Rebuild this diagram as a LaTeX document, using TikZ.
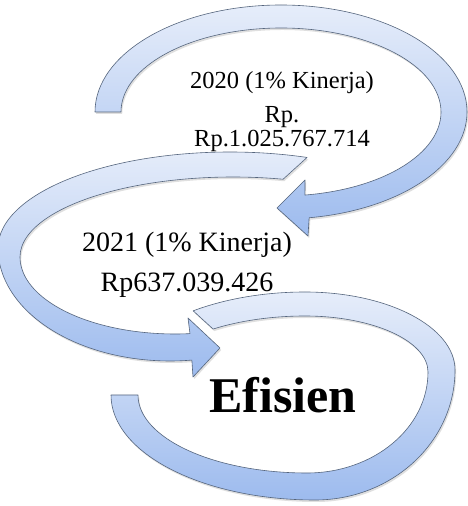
\documentclass[tikz,border=0pt]{standalone}
\usepackage{fontspec}
\setmainfont{Liberation Serif}
\usetikzlibrary{shadows}
\definecolor{bandlight}{HTML}{E6EDFA}
\definecolor{banddark}{HTML}{9DBBEE}
\definecolor{bandline}{HTML}{55657D}
\begin{document}
\begin{tikzpicture}[x=1pt,y=1pt,
  band/.style={draw=bandline, line width=0.6pt, line join=round,
    top color=bandlight, bottom color=banddark,
    drop shadow={opacity=0.25, shadow xshift=1.2pt, shadow yshift=-2pt}},
  lbl/.style={anchor=base, inner sep=0pt},
  small/.style={lbl, font=\fontsize{24.5}{24.5}\selectfont},
  mid/.style={lbl, font=\fontsize{28}{28}\selectfont},
  big/.style={lbl, font=\fontsize{50}{50}\selectfont\bfseries}]
\useasboundingbox (0,0) rectangle (468,506);
\fill[white] (0,0) rectangle (468,506);
% arrow 3 (bottom, no head)
\draw[band] ({305+194*cos(125.2)},{111+103*sin(125.2)})
  arc[start angle=125.2, end angle=90, x radius=194, y radius=103]
  arc[start angle=90, end angle=0, x radius=150, y radius=78]
  arc[start angle=0, end angle=-90, x radius=140, y radius=130]
  arc[start angle=-90, end angle=-180, x radius=204, y radius=105]
  -- (138,111)
  arc[start angle=180, end angle=270, x radius=169, y radius=78]
  arc[start angle=270, end angle=360, x radius=121, y radius=101]
  arc[start angle=0, end angle=90, x radius=123, y radius=56]
  arc[start angle=90, end angle=123.4, x radius=167, y radius=79]
  -- cycle;
% arrow 2 (middle)
\draw[band] ({230+232*cos(70.6)},{258+96*sin(70.6)})
  arc[start angle=70.6, end angle=180, x radius=232, y radius=96]
  arc[start angle=180, end angle=277.3, x radius=172, y radius=113]
  -- (193,129) -- (220,158) -- (188,188)
  -- ({175+155*cos(275.55)},{249+77*sin(275.55)})
  arc[start angle=275.55, end angle=180, x radius=155, y radius=77]
  arc[start angle=180, end angle=76.4, x radius=213, y radius=80]
  -- cycle;
% arrow 1 (top)
\draw[band] (95,394)
  arc[start angle=180, end angle=-81.3, x radius=186, y radius=107]
  -- (308,270) -- (277,298) -- (305,326)
  -- ({281+160*cos(-81.4)},{394+84*sin(-81.4)})
  arc[start angle=-81.4, end angle=180, x radius=160, y radius=84]
  -- cycle;
% texts
\node[small] (t2020) at (282,417) {2020 (1\% Kinerja)};
\node[small] (rpa) at (282,383) {Rp.};
\node[small] (rpb) at (282,359) {Rp.1.025.767.714};
\node[mid] (t2021) at (187,254) {2021 (1\% Kinerja)};
\node[mid] (rpc) at (187,214) {Rp637.039.426};
\node[big] (ef) at (283,93) {Efisien};
\end{tikzpicture}
\end{document}
